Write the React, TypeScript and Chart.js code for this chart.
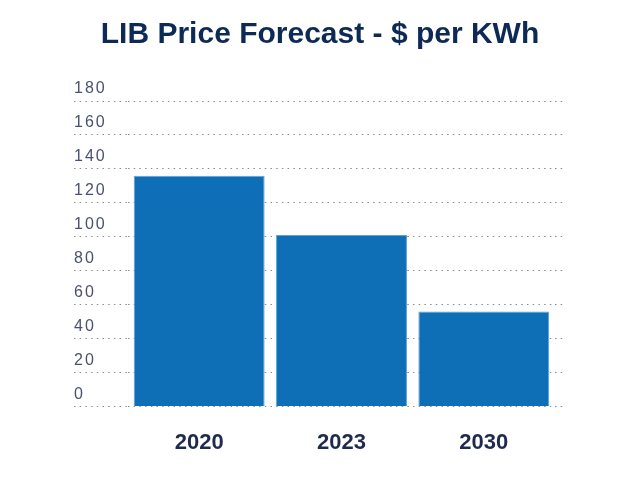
import Chart from "chart.js/auto";
import { useEffect, useRef } from "react";

const years = ["2020", "2023", "2030"];
const pricePerKwh = [136, 101, 56];
const yTicks = [0, 20, 40, 60, 80, 100, 120, 140, 160, 180];

const navy = "#0d2a57";
const dots = [1.5, 4.2];

export default function App() {
  const chartRef = useRef<HTMLCanvasElement | null>(null);

  useEffect(() => {
    if (!chartRef.current) return;
    const ctx = chartRef.current.getContext("2d");
    if (!ctx) return;

    // y tick labels are spaced out a little, drawn after the bars (z: 1)
    const spacing = {
      id: "tickSpacing",
      afterDatasetsDraw(c: Chart) {
        (c.ctx as any).letterSpacing = "2px";
      },
      afterDraw(c: Chart) {
        (c.ctx as any).letterSpacing = "0px";
      },
    };

    const chart = new Chart(ctx, {
      type: "bar",
      data: {
        labels: years,
        datasets: [
          {
            label: "$ per KWh",
            data: pricePerKwh,
            backgroundColor: "#0f6fb6",
            borderColor: "#5fa3d8",
            borderWidth: 1,
            barPercentage: 0.92,
            categoryPercentage: 1,
          },
        ],
      },
      options: {
        animation: false,
        responsive: true,
        maintainAspectRatio: false,
        layout: { padding: { left: 74, right: 74, top: 0, bottom: 1 } },
        plugins: {
          legend: { display: false },
          tooltip: { enabled: false },
          title: {
            display: true,
            text: "LIB Price Forecast - $ per KWh",
            color: navy,
            font: { family: "Liberation Sans", size: 30, weight: "bold" },
            padding: { top: 17, bottom: 48 },
          },
        },
        scales: {
          x: {
            grid: { display: false, drawTicks: false },
            border: { display: false },
            ticks: {
              color: "#1e2b4c",
              padding: 23,
              font: { family: "Liberation Sans", size: 22, weight: "bold" },
            },
          },
          y: {
            min: 0,
            max: 180,
            afterBuildTicks: (scale) => {
              scale.ticks = yTicks.map((v) => ({ value: v }));
            },
            afterFit: (scale) => {
              scale.width = 54;
            },
            grid: {
              color: "#8c8c8c",
              tickColor: "#8c8c8c",
              tickLength: 54,
              tickBorderDash: dots,
            },
            border: { display: false, dash: dots },
            ticks: {
              z: 1,
              crossAlign: "far",
              labelOffset: -12,
              color: "#4a5170",
              font: { family: "Liberation Sans", size: 16, weight: "normal" },
            },
          },
          y2: {
            position: "right",
            min: 0,
            max: 180,
            afterBuildTicks: (scale) => {
              scale.ticks = yTicks.map((v) => ({ value: v }));
            },
            grid: {
              drawOnChartArea: false,
              tickColor: "#8c8c8c",
              tickLength: 11,
              tickBorderDash: dots,
            },
            border: { display: false },
            ticks: { display: false },
          },
        },
      },
      plugins: [spacing],
    });
    return () => chart.destroy();
  }, []);

  return (
    <div style={{ position: "absolute", left: 0, top: 0, width: 640, height: 480 }}>
      <canvas ref={chartRef} />
    </div>
  );
}
